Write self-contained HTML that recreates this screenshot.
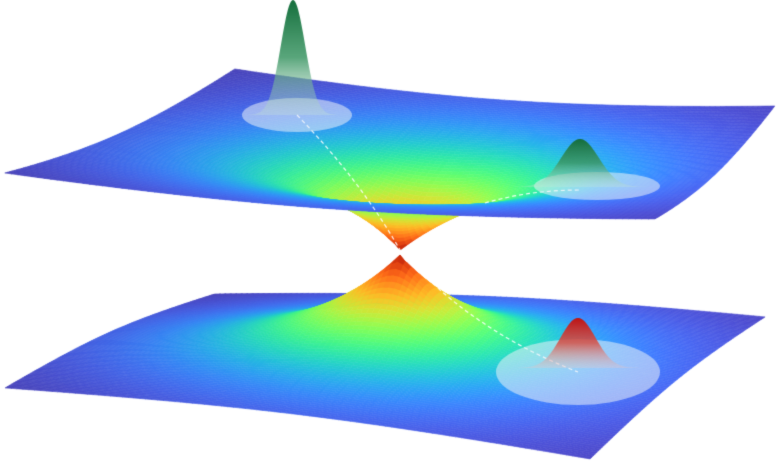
<!DOCTYPE html>
<html><head><meta charset="utf-8"><style>
html,body{margin:0;padding:0;background:#fff;width:777px;height:463px;overflow:hidden}
canvas{display:block}
</style></head><body>
<canvas id="c" width="777" height="463"></canvas>
<script>
// Gaussian wavepacket data
const bumpCenters = [293, 580, 578];
const bumpBases = [115, 187, 368];
const bumpHeights = [115, 48, 50];
const bumpSigmas = [18, 28, 26];
const bumpColors = ["green", "green", "red"];
const ellipseCx = [297, 597, 578];
const ellipseCy = [115, 186, 372];
const ellipseRx = [55, 63, 82];
const ellipseRy = [17, 14, 33];

const cv = document.getElementById('c');
const ctx = cv.getContext('2d');

function turbo(t){
  t=Math.max(0,Math.min(1,t));
  const r=0.13572138+t*(4.61539260+t*(-42.66032258+t*(132.13108234+t*(-152.94239396+t*59.28637943))));
  const g=0.09140261+t*(2.19418839+t*(4.84296658+t*(-14.18503333+t*(4.27729857+t*2.82956604))));
  const b=0.10667330+t*(12.64194608+t*(-60.58204836+t*(110.36276771+t*(-89.90310912+t*27.34824973))));
  const c=v=>Math.round(Math.max(0,Math.min(1,v))*255);
  return [c(r),c(g),c(b)];
}

function bil(corners,u,v){
  const a=(1-u)/2*(1-v)/2, b=(1+u)/2*(1-v)/2, c=(1+u)/2*(1+v)/2, d=(1-u)/2*(1+v)/2;
  return [a*corners[0][0]+b*corners[1][0]+c*corners[2][0]+d*corners[3][0],
          a*corners[0][1]+b*corners[1][1]+c*corners[2][1]+d*corners[3][1]];
}

function sheet(corners,apex,sign,edgeLift){
  const N=100;
  const ctr=bil(corners,0,0);
  const K=apex[1]-ctr[1];
  const P=[];
  for(let j=0;j<=N;j++){P.push([]);for(let i=0;i<=N;i++){
    const u=-1+2*i/N,v=-1+2*j/N,r=Math.sqrt(u*u+v*v);
    const p=bil(corners,u,v);
    const w=Math.exp(-r*3.2);
    const x=p[0]+(apex[0]-ctr[0])*w;
    const y=p[1]+K*w - sign*edgeLift*r*r;
    P[j].push([x,y,r]);
  }}
  for(let j=0;j<N;j++)for(let i=0;i<N;i++){
    const a=P[j][i],b=P[j][i+1],c=P[j+1][i+1],d=P[j+1][i];
    const r=(a[2]+c[2])/2;
    const t=0.05+0.85*Math.exp(-2.5*r);
    const col=turbo(t);
    const shade=1+0.08*((i/N)-0.5);
    ctx.fillStyle='rgb('+(Math.min(255,col[0]*shade)|0)+','+(Math.min(255,col[1]*shade)|0)+','+(Math.min(255,col[2]*shade)|0)+')';
    ctx.beginPath();ctx.moveTo(a[0],a[1]);ctx.lineTo(b[0],b[1]);ctx.lineTo(c[0],c[1]);ctx.lineTo(d[0],d[1]);ctx.closePath();
    ctx.fill();ctx.strokeStyle=ctx.fillStyle;ctx.lineWidth=0.6;ctx.stroke();
  }
}

// lower sheet
sheet([[215,283],[765,306],[590,448],[5,377]],[400,255],-1,6);
// upper sheet
sheet([[235,88],[775,125],[655,238],[5,192]],[400,250],1,10);

function bump(k){
  const cx=bumpCenters[k],by=bumpBases[k],H=bumpHeights[k],s=bumpSigmas[k];
  ctx.fillStyle='rgba(235,240,245,0.55)';
  ctx.beginPath();ctx.ellipse(ellipseCx[k],ellipseCy[k],ellipseRx[k],ellipseRy[k],0,0,Math.PI*2);ctx.fill();
  const g=ctx.createLinearGradient(0,by-H,0,by);
  if(bumpColors[k]==='green'){g.addColorStop(0,'rgba(20,110,60,1)');g.addColorStop(0.5,'rgba(60,150,100,0.85)');g.addColorStop(1,'rgba(200,230,215,0.3)');}
  else{g.addColorStop(0,'rgba(190,20,20,1)');g.addColorStop(0.5,'rgba(215,80,70,0.85)');g.addColorStop(1,'rgba(235,200,200,0.3)');}
  ctx.fillStyle=g;ctx.beginPath();
  for(let x=cx-3*s;x<=cx+3*s;x++){
    const y=by-H*Math.exp(-Math.pow((x-cx)/s,2)*1.1);
    if(x===cx-3*s)ctx.moveTo(x,y);else ctx.lineTo(x,y);
  }
  ctx.closePath();ctx.fill();
}
// dashed path
ctx.setLineDash([4,3]);ctx.strokeStyle='rgba(255,255,255,0.9)';ctx.lineWidth=1.2;
ctx.beginPath();ctx.moveTo(297,115);ctx.quadraticCurveTo(360,180,400,250);ctx.quadraticCurveTo(470,330,578,372);ctx.stroke();
ctx.beginPath();ctx.moveTo(485,203);ctx.quadraticCurveTo(530,190,580,190);ctx.stroke();
ctx.setLineDash([]);
for(let k=0;k<bumpCenters.length;k++)bump(k);
</script>
</body></html>
